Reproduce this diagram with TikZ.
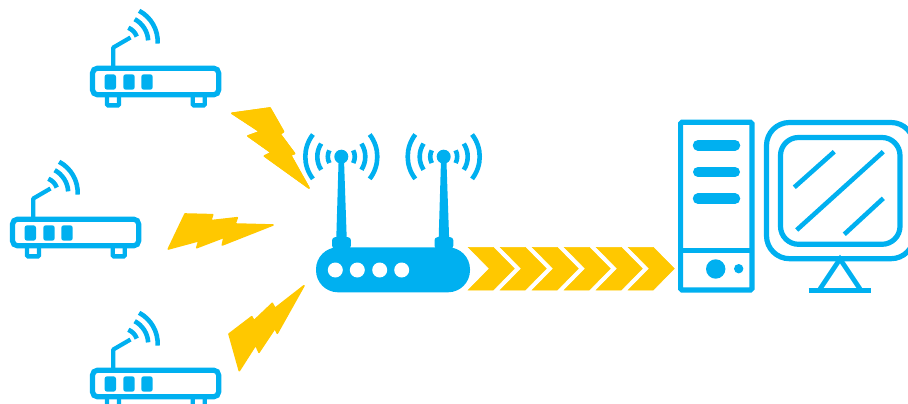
\documentclass[tikz,border=0pt]{standalone}
\definecolor{netblue}{HTML}{00B0F0}
\definecolor{boltyellow}{HTML}{FFC800}
\tikzset{
  bline/.style={draw=netblue,line width=5.2pt,rounded corners=#1},
  bline/.default=1.5pt,
  wave/.style={draw=netblue,line width=4.6pt},
  bolt/.style={fill=boltyellow,draw=boltyellow,line width=1.6pt,line join=round},
  chevron/.style={fill=boltyellow,draw=boltyellow,line width=.5pt},
  smallrouter/.pic={
    \draw[bline=5pt] (92.5,68.2) rectangle (218.7,94.8);
    \fill[netblue,rounded corners=2.5pt] (104.6,74.3) rectangle (116,89.7);
    \fill[netblue,rounded corners=2.5pt] (123.3,74.3) rectangle (134.7,89.7);
    \fill[netblue,rounded corners=2.5pt] (141.3,74.3) rectangle (152.7,89.7);
    \draw[bline=1pt,line width=4.4pt] (107,96) -- (107,105.3) -- (119,105.3) -- (119,96);
    \draw[bline=1pt,line width=4.4pt] (192.7,96) -- (192.7,105.3) -- (204.7,105.3) -- (204.7,96);
    \draw[netblue,line width=4.2pt,line join=round] (113.3,67) -- (113.3,47.5) -- (130.5,37.5);
    \draw[wave] (122.7,41.7) ++(-68:15pt) arc[start angle=-68,end angle=-20,radius=15pt];
    \draw[wave] (122.7,41.7) ++(-62:25.5pt) arc[start angle=-62,end angle=-3,radius=25.5pt];
    \draw[wave] (122.7,41.7) ++(-62:35pt) arc[start angle=-62,end angle=3,radius=35pt];
  },
  antenna/.pic={
    \fill[netblue] (-5,81) -- (-2.6,0) -- (2.6,0) -- (5.4,81) -- cycle;
    \fill[netblue] (0,0) circle[radius=7pt];
    \fill[netblue,rounded corners=3pt] (-9.2,80.5) rectangle (9.6,92);
    \foreach \s in {0,180}{
      \begin{scope}[rotate=\s]
      \draw[wave] (-28:13.5pt) arc[start angle=-28,end angle=28,radius=13.5pt];
      \draw[wave] (-33:24pt) arc[start angle=-33,end angle=33,radius=24pt];
      \draw[wave] (-38:36pt) arc[start angle=-38,end angle=38,radius=36pt];
      \end{scope}
    }
  },
  chev/.pic={
    \filldraw[chevron] (0,0) -- (25,0) -- (46,21.3) -- (25,42.7) -- (0,42.7) -- (21,21.3) -- cycle;
  }
}
\begin{document}
\begin{tikzpicture}[x=1pt,y=1pt,yscale=-1]
\useasboundingbox (0,0) rectangle (908,404);
\begin{scope}
\clip (0,0) rectangle (908,404);
% small routers
\pic[yscale=-1] at (0,0) {smallrouter};
\pic[yscale=-1] at (-80,151) {smallrouter};
\pic[yscale=-1] at (0,302) {smallrouter};
% bolts
\fill[bolt] (232,113.3) -- (270,108) -- (283.5,131.7) -- (280,134) -- (294.5,153.5) -- (290.5,155) -- (309,188) -- (264.5,156) -- (271.5,152.7) -- (248,136) -- (260,131.7) -- cycle;
\filldraw[bolt] (185,214) -- (212.7,214.7) -- (210.7,220.7) -- (237.3,217.7) -- (235,224) -- (273,225) -- (222.3,245) -- (224,237.3) -- (196.7,247.7) -- (199,240.7) -- (168.3,249) -- cycle;
\filldraw[bolt] (304,285.7) -- (277.3,333.3) -- (275,328.3) -- (259,352.3) -- (255.7,345) -- (239.3,370.7) -- (229,334) -- (251.7,316.7) -- (254,320.7) -- (272.3,303.3) -- (275,308.3) -- cycle;
\filldraw[bolt] (232,113.3) -- (270,108) -- (283.5,131.7) -- (280,134) -- (294.5,153.5) -- (290.5,155) -- (309,188) -- (264.5,156) -- (271.5,152.7) -- (248,136) -- (260,131.7) -- cycle;
% main router
\fill[netblue,rounded corners=22pt] (316,247.3) rectangle (470,292.3);
\foreach \cx in {335.3,357.3,379.7,401.7}{\fill[white] (\cx,270) circle[radius=7.5pt];}
\pic[yscale=-1] at (341.3,156.7) {antenna};
\pic[yscale=-1] at (443.7,156.7) {antenna};
% chevrons
\foreach \k in {0,...,5}{\pic[yscale=-1] at (468.3+32*\k,247.3) {chev};}
% tower
\draw[bline] (680.6,122.3) rectangle (752,290);
\draw[netblue,line width=5pt] (680.6,250) -- (752,250);
\draw[netblue,line width=10.5pt,line cap=round] (698,145.3) -- (735,145.3);
\draw[netblue,line width=10pt,line cap=round] (698,172) -- (735,172);
\draw[netblue,line width=10.5pt,line cap=round] (698,198.7) -- (735,198.7);
\fill[netblue] (715.7,269) circle[radius=9.7pt];
\fill[netblue] (738.7,268.7) circle[radius=4.7pt];
% monitor
\draw[bline=23pt] (766.5,122.5) rectangle (914,258.7);
\draw[bline=18pt] (780.5,137.5) rectangle (900,244.3);
\draw[netblue,line width=4.6pt] (794.3,187.3) -- (834.3,151.7);
\draw[netblue,line width=4.6pt] (796.7,230) -- (883.3,151.7);
\draw[netblue,line width=4.6pt] (844.3,234.3) -- (883.3,198.3);
\draw[netblue,line width=4.8pt,line join=miter] (820,289) -- (840,259) -- (860,289);
\draw[netblue,line width=5pt] (808.7,290) -- (871.3,290);
\end{scope}
\end{tikzpicture}
\end{document}
